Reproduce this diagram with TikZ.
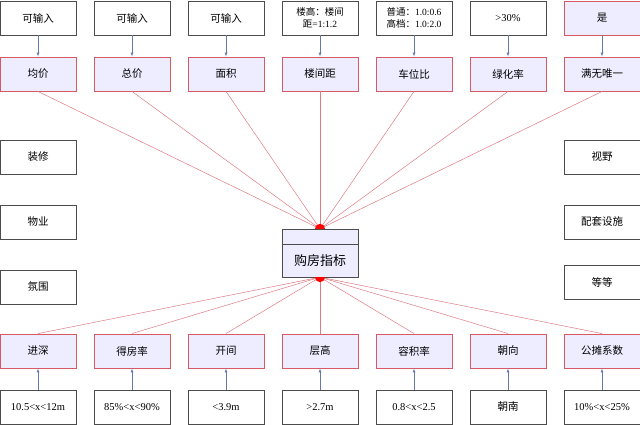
\documentclass[tikz,border=0pt]{standalone}
\usepackage{fontspec}
\setmainfont{Liberation Serif}
\newfontfamily\cjk{Noto Sans CJK SC}
\definecolor{rb}{RGB}{214,90,100}
\definecolor{ab}{RGB}{100,120,170}
\begin{document}
\begin{tikzpicture}[x=1pt,y=-1pt,
 inbox/.style={draw=black!70,fill=white,minimum width=76pt,minimum height=34pt,inner sep=1pt,font=\fontsize{10.5}{12}\selectfont,align=center},
 redbox/.style={draw=rb,line width=0.9pt,fill=blue!7,minimum width=76pt,minimum height=34pt,inner sep=1pt,font=\cjk\fontsize{10.5}{12}\selectfont},
 sidebox/.style={draw=black!70,fill=white,minimum width=76pt,minimum height=34pt,font=\cjk\fontsize{10.5}{12}\selectfont},
 arr/.style={draw=ab,-latex},
 spoke/.style={draw=rb!80,line width=0.5pt}]
\useasboundingbox (0,0) rectangle (640,425);
\foreach \i/\t in {1/均价,2/总价,3/面积,4/楼间距,5/车位比,6/绿化率,7/满无唯一}{
 \node[redbox] (t\i) at ({38+94*(\i-1)},74) {\t};}
\node[inbox] (i1) at (38,18) {\cjk 可输入};
\node[inbox] (i2) at (132,18) {\cjk 可输入};
\node[inbox] (i3) at (226,18) {\cjk 可输入};
\node[inbox,font=\fontsize{9.5}{12}\selectfont] (i4) at (320,18) {{\cjk 楼高：楼间}\\{\cjk 距}=1:1.2};
\node[inbox,font=\fontsize{9.5}{12}\selectfont] (i5) at (414,18) {{\cjk 普通：}1.0:0.6\\{\cjk 高档：}1.0:2.0};
\node[inbox] (i6) at (508,18) {>30\%};
\node[redbox] (i7) at (602,18) {是};
\foreach \i/\t in {1/进深,2/得房率,3/开间,4/层高,5/容积率,6/朝向,7/公摊系数}{
 \node[redbox] (b\i) at ({38+94*(\i-1)},351) {\t};}
\node[inbox] (j1) at (38,407) {10.5<x<12m};
\node[inbox] (j2) at (132,407) {85\%<x<90\%};
\node[inbox] (j3) at (226,407) {<3.9m};
\node[inbox] (j4) at (320,407) {>2.7m};
\node[inbox] (j5) at (414,407) {0.8<x<2.5};
\node[inbox] (j6) at (508,407) {\cjk 朝南};
\node[inbox] (j7) at (602,407) {10\%<x<25\%};
\node[sidebox] (s1) at (38,157) {装修};
\node[sidebox] (s2) at (38,222) {物业};
\node[sidebox] (s3) at (38,287) {氛围};
\node[sidebox] (s4) at (602,157) {视野};
\node[sidebox] (s5) at (602,222) {配套设施};
\node[sidebox] (s6) at (602,282) {等等};
\node[draw=black!70,fill=blue!7,minimum width=76pt,minimum height=48pt] (c) at (320,253) {};
\draw[black!70] (c.west |- 0,244) -- (c.east |- 0,244);
\node[font=\cjk\fontsize{13}{15}\selectfont] (ct) at (320,261) {购房指标};
\coordinate (ctop) at (c.north);
\coordinate (cbot) at (c.south);
\foreach \i in {1,...,7}{
 \draw[spoke] (t\i.south) -- (ctop);
 \draw[spoke] (b\i.north) -- (cbot);
 \draw[arr] (i\i) -- (t\i);
 \draw[arr] (j\i) -- (b\i);}
\fill[red] ([xshift=-5pt]ctop) arc (180:0:5pt) -- cycle;
\fill[red] ([xshift=-5pt]cbot) arc (180:360:5pt) -- cycle;
\end{tikzpicture}
\end{document}
